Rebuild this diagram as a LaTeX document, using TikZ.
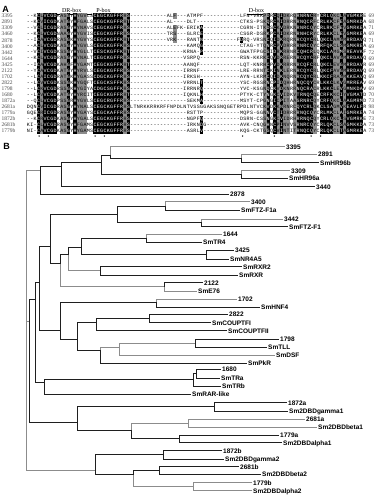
\documentclass[tikz,border=0pt]{standalone}
\usepackage{fontspec}
\setmainfont{Liberation Serif}
\newfontfamily\labfont{Liberation Sans}
\newfontfamily\alfont{Liberation Mono}
\definecolor{algray}{gray}{0.55}
\definecolor{tdark}{gray}{0.12}
\definecolor{tlight}{gray}{0.55}

\newcount\alcol
\def\altpl{NNN%
BGBBBBNGGBNBGGGNNBBBBBBBBBGB%
NNNNNNNNNNN%
NNGNNNNNNNBN%
NNNNNNNNNN%
BNNNNNNGBNBGBGGNGBBBBBGNBBBBGGBGBBBBBN}
\def\alpop#1#2\endpop{\def\alt{#1}\def\altplrest{#2}}
\def\alparse#1{\ifx\relax#1\let\alnext\relax\else\def\alnext{\alcell{#1}\alparse}\fi\alnext}
\def\alcell#1{%
  \expandafter\alpop\altplrest N\endpop
  \pgfmathsetmacro\alx{26.8+3.33*\alcol}%
  \pgfmathtruncatemacro\alc{\alcol}%
  \ifnum`#1<65 \def\als{N}\else\ifnum`#1>90 \def\als{N}\else\let\als\alt\fi\fi
  \if B\als\def\alfill{black}\def\altext{white}\else
    \if G\als\def\alfill{algray}\def\altext{black}\else
      \def\alfill{none}\def\altext{black}\fi\fi
  \path[fill=\alfill] (\alx,\aly-3.08) rectangle (\alx+3.38,\aly+3.08);
  \node[alch,text=\altext] (c\alrowid-\alc) at (\alx+1.665,\aly) {\uppercase{#1}};
  \advance\alcol by 1\relax}
\def\alrow#1#2#3#4#5#6#7#8#9{%
  \pgfmathsetmacro\aly{16+6.05*#1}%
  \def\alrowid{#1}%
  \node[alname] (nm#1) at (1.5,\aly) {#2};
  \node[alnum] (nb#1) at (368.5,\aly) {#3};
  \alcol=0
  \edef\altplrest{\altpl}%
  \alparse#4#5#6#7#8#9\relax}

\begin{document}
\begin{tikzpicture}[x=1pt,y=-1pt,
  alch/.style={inner sep=0pt, text height=3.3pt, text depth=0pt, font=\alfont\fontsize{5}{5}\selectfont},
  alname/.style={anchor=west, inner sep=0pt, text=black!70, font=\fontsize{5.5}{6}\selectfont},
  alnum/.style={anchor=west, inner sep=0pt, text=black!70, font=\fontsize{5.5}{6}\selectfont},
  boxlab/.style={inner sep=0pt, font=\fontsize{6}{7}\selectfont},
  panel/.style={inner sep=0pt, font=\labfont\bfseries\fontsize{9}{10}\selectfont},
  tl/.style={draw=tdark, line width=0.75pt, line cap=rect},
  tg/.style={draw=tlight, line width=0.75pt, line cap=rect},
  leaf/.style={anchor=west, inner xsep=1.5pt, inner ysep=0pt, text height=4.7pt, text depth=0pt, font=\labfont\bfseries\fontsize{6.5}{7}\selectfont}]
\useasboundingbox (0,0) rectangle (380,500);
\fill[white] (0,0) rectangle (380,500);

% ---------------- Panel A ----------------
\node[panel] (labA) at (5.5,9.5) {A};
\node[boxlab] (drbox) at (71.7,10) {DR-box};
\node[boxlab] (pbox) at (103.5,10) {P-box};
\node[boxlab] (dbox) at (256.5,10) {D-box};
\draw[line width=0.5pt] (51.7,14.3) -- (91.7,14.3);
\draw[line width=0.5pt] (94.3,14.3) -- (112.7,14.3);
\draw[line width=0.5pt] (246.7,14.3) -- (269.3,14.3);

\alrow{0}{3395}{69}{--K}{CLVCGDKASGYHYGVLSCEGCKGFFRRS}{-----------}{ALF---ATMPf-}{----------}{lfn-VRKPDRCQIDKRQRNRNCRYCRLQKCLAVGMKRE}
\alrow{1}{2891}{68}{--K}{CVICGDKATGYHFGALSCEGCKGFFRRT}{-----------}{AL----DLT---}{----------}{ctks-PSKQRCAIDRRNRNQCRFCRLKKCFEAGMRKDA}
\alrow{2}{3309}{71}{--V}{CLICGDRASGYHYNAVSCEGCKGFFRRS}{-----------}{ALEFK-ERIKA-}{----------}{cgrn-ITKDSCKVDRKNRNRCQYCRLRKCFEVGMRKEA}
\alrow{3}{3460}{69}{--K}{CLVCGDNAAGYHYGVISCEGCKGFFRRS}{-----------}{TRS---GLRCE-}{----------}{csgr-DSRKPCAIDKRNRNHCRYCRLKKCLEVGMRKEA}
\alrow{4}{2878}{71}{--I}{CAVCGDRASGKHYGVYSCEGCKGFFKRT}{-----------}{VRK---RANTN-}{---------F}{DRQ-VRSNCQIDKRQRNRCQYCRLQKCLAMGMRRDAVQ}
\alrow{5}{3400}{69}{--A}{CLVCGDKASGYHYGVLSCEGCKGFFKRS}{-----------}{------KAMQG-}{----------}{ctag-YTQNRCPVDRRRRNRCQYCRFQKCLSMGMKREA}
\alrow{6}{3442}{72}{--V}{CIVCGDKSSGYHYGLLTCESCKGFFKRT}{-----------}{-----KRNA-P-}{----------}{gwatfpgCSIDRKRRNRCQHCRLQKCLAMGMSREAVKF}
\alrow{7}{1644}{69}{--K}{CLVCGDRASGYHYNALTCEGCKGFFRRS}{-----------}{-----VSRPQ--}{----------}{rsn-KKRKCQVDRRERNRCQYCRFQKCLAVGMRRDAVQ}
\alrow{8}{3425}{69}{--I}{CAVCGDKAHGFHYGAMTCEGCKGFFKRT}{-----------}{-----AANQF--}{----------}{lqt-KNRHCPVDKRRRNRCQFCRLQKCLEVGMRRDAVR}
\alrow{9}{2122}{69}{--Y}{CAVCGDKATGYHYRVLSCEGCKGFFRRS}{-----------}{-----IRRNF--}{----------}{lre-RRNTCKINKLERNRCQYCRLQKCFAVGMRRDAVQ}
\alrow{10}{1702}{69}{--L}{CAICGDRATGKHYGASSCDGCKGFFRRS}{-----------}{-----IRKSH--}{----------}{ayn-LKRMCQIDKNQRNRCQYCRLKKCFRAGMKKEAVQ}
\alrow{11}{2822}{69}{--L}{CVVCGDKSSGKHYGQFTCEGCKSFFKRS}{-----------}{-----VRRNLT-}{----------}{ysc-RGSRNCPIDQHHRNQCQYCRLKKCLKVGMRREAV}
\alrow{12}{1798}{69}{--L}{CKVCGDRSSGKHYGIYACDGCSGFFKRS}{-----------}{-----IRRNRQ-}{----------}{yvc-KSGNQCKVDKNRRNQCRACRLKKCLEVGMNKDAV}
\alrow{13}{1680}{70}{--L}{CVVCGDKATGYHYRCITCEGCKGFFRRT}{-----------}{-----IQKNLH-}{----------}{ptyk-CTYNGKCVIDKVTRNQCQECRFKKCIYVGMATD}
\alrow{14}{1872a}{73}{--Q}{CLVCGDPSSGRHYGVLSCEGCRGFFRRS}{-----------}{------SEKMA-}{----------}{msyt-CPGNGICPITAASRNRCQYCRFQKCLAAGMRMD}
\alrow{15}{2681a}{98}{DQN}{CVICGDRASGYHYNALSCEGCKGFFRRS}{ltnrkkrrkrf}{fnpdlntvssgg}{akssnqgetr}{pdlntvCKVDKKNRNRCQYCRLQKCLSAGMVKEAVLFR}
\alrow{16}{1779a}{74}{GQE}{CRICGDRASGYHYGAYSCEGCKAFFRRS}{-----------}{------RSTTp-}{----------}{mqps-GGNNVCTIDRRRRNQCQYCRLMKCLAIGMRKEA}
\alrow{17}{1872b}{73}{--K}{CRVCGDKASGYHYGALSCEGCKGFFRRS}{-----------}{------NGPFQ-}{----------}{dsrn-CSSNGKCVIDRHRRNQCQYCRLQKCLSVGMRKE}
\alrow{18}{2681b}{73}{KI-}{CLVCGDRASGYHFGAMSCEGCKGFFRRS}{-----------}{------IRKNDG}{----------}{avk-CNQGHNCPINVVSRNRCQYCRLQKCLSAGMKKDA}
\alrow{19}{1779b}{73}{NI-}{CAVCGDKASGYHYGAMSCEGCKGFFRRS}{-----------}{------ASRLV-}{----------}{kqg-CKTGGQCVINTITRNQCQYCRLQKCLTAGMRKEA}

\foreach \dx in {39,48.3,95,104.3,242.7,274.3,311,320.7}
  \fill (\dx,136) circle (0.75);

% ---------------- Panel B ----------------
\node[panel] (labB) at (6.5,146.5) {B};

% internal nodes
\coordinate (root) at (26.7,321.7);
\coordinate (T) at (40,170);
\coordinate (n61) at (61,166.7);
\coordinate (n101) at (101,162.7);
\coordinate (n110) at (110,155);
\coordinate (n241a) at (241,158.3);
\coordinate (n241b) at (241,174.5);
\coordinate (n29) at (29.3,321.7);
\coordinate (n35) at (35.7,299.3);
\coordinate (n39) at (39,282.7);
\coordinate (n50) at (50,246);
\coordinate (nFTZ) at (117.3,214.3);
\coordinate (n3400) at (165.7,206.7);
\coordinate (n3442) at (201,222);
\coordinate (n60a) at (60,263.3);
\coordinate (n68) at (68.3,254.3);
\coordinate (n81) at (81,247.3);
\coordinate (n1644) at (146.7,238.3);
\coordinate (n3425) at (206.7,254.5);
\coordinate (nRXR) at (100,270);
\coordinate (n2122) at (164.3,286.7);
\coordinate (n60b) at (60,330.7);
\coordinate (n1702) at (156,302.7);
\coordinate (n77) at (77.7,339);
\coordinate (nCOUP) at (96.7,322.7);
\coordinate (nCOUPi) at (149.3,318.3);
\coordinate (nTLL) at (100,350);
\coordinate (nTLLg) at (119.3,347.3);
\coordinate (n1798) at (195,343.3);
\coordinate (nTR) at (44.3,382.7);
\coordinate (nTRi) at (193.3,379);
\coordinate (n1680) at (196.7,373.7);
\coordinate (nG1) at (77.7,422.7);
\coordinate (n1872a) at (214.3,406.7);
\coordinate (n131) at (131,430.7);
\coordinate (n2681a) at (188.3,423);
\coordinate (n1779a) at (179,438.8);
\coordinate (nG2) at (95.7,470);
\coordinate (n1872b) at (163.3,454.3);
\coordinate (n133) at (133.3,474);
\coordinate (n2681b) at (159,470.5);
\coordinate (n1779b) at (193.3,486.7);

% leaves
\node[leaf] (l3395) at (284.5,146.7) {3395};
\node[leaf] (l2891) at (316.5,154.3) {2891};
\node[leaf] (lHR96b) at (318.5,162.7) {SmHR96b};
\node[leaf] (l3309) at (289.5,170.7) {3309};
\node[leaf] (lHR96a) at (287.5,178.3) {SmHR96a};
\node[leaf] (l3440) at (314.5,186.7) {3440};
\node[leaf] (l2878) at (228.5,194.3) {2878};
\node[leaf] (l3400) at (249.5,201.7) {3400};
\node[leaf] (lFTZa) at (239.5,210) {SmFTZ-F1a};
\node[leaf] (l3442) at (282.5,219) {3442};
\node[leaf] (lFTZ) at (287.5,226.7) {SmFTZ-F1};
\node[leaf] (l1644) at (221.5,234.3) {1644};
\node[leaf] (lTR4) at (201.5,242.3) {SmTR4};
\node[leaf] (l3425) at (233.5,250) {3425};
\node[leaf] (lNR4A5) at (228.5,259) {SmNR4A5};
\node[leaf] (lRXR2) at (241.5,266.7) {SmRXR2};
\node[leaf] (lRXR) at (237.5,275) {SmRXR};
\node[leaf] (l2122) at (202.5,282.7) {2122};
\node[leaf] (lE76) at (196.5,291) {SmE76};
\node[leaf] (l1702) at (236.5,299.3) {1702};
\node[leaf] (lHNF4) at (259.5,307.3) {SmHNF4};
\node[leaf] (l2822) at (227.5,314) {2822};
\node[leaf] (lCOUPI) at (210.5,322.7) {SmCOUPTFI};
\node[leaf] (lCOUPII) at (226.5,330.7) {SmCOUPTFII};
\node[leaf] (l1798) at (278.5,339) {1798};
\node[leaf] (lTLL) at (266.5,347.3) {SmTLL};
\node[leaf] (lDSF) at (274.5,355) {SmDSF};
\node[leaf] (lPkR) at (246.5,363.3) {SmPkR};
\node[leaf] (l1680) at (220.5,369.3) {1680};
\node[leaf] (lTRa) at (219.5,378.3) {SmTRa};
\node[leaf] (lTRb) at (220.5,386) {SmTRb};
\node[leaf] (lRAR) at (190.5,394.3) {SmRAR-like};
\node[leaf] (l1872a) at (286.5,402.7) {1872a};
\node[leaf] (lg1) at (287.5,411) {Sm2DBDgamma1};
\node[leaf] (l2681a) at (304.5,419) {2681a};
\node[leaf] (lb1) at (316.5,427.3) {Sm2DBDbeta1};
\node[leaf] (l1779a) at (278.5,435) {1779a};
\node[leaf] (la1) at (281.5,442.7) {Sm2DBDalpha1};
\node[leaf] (l1872b) at (221.5,450.7) {1872b};
\node[leaf] (lg2) at (223.5,459) {Sm2DBDgamma2};
\node[leaf] (l2681b) at (238.5,466.7) {2681b};
\node[leaf] (lb2) at (260.5,474.3) {Sm2DBDbeta2};
\node[leaf] (l1779b) at (251.5,482.7) {1779b};
\node[leaf] (la2) at (251.5,490.7) {Sm2DBDalpha2};

% light branches
\draw[tg] (root) |- (T);
\draw[tg] (root) |- (n29);
\draw[tg] (root) |- (nG2);
\draw[tg] (n110) |- (l3395.west);
\draw[tg] (n241a) |- (l2891.west);
\draw[tg] (n241b) |- (l3309.west);
\draw[tg] (n3400) |- (l3400.west);
\draw[tg] (n3442) |- (l3442.west);
\draw[tg] (n1644) |- (l1644.west);
\draw[tg] (n60a) |- (n2122);
\draw[tg] (n68) |- (nRXR);
\draw[tg] (n2122) |- (lE76.west);
\draw[tg] (n1702) |- (l1702.west);
\draw[tg] (nTLL) |- (nTLLg);
\draw[tg] (nTLLg) |- (n1798);
\draw[tg] (nTLLg) |- (lDSF.west);
\draw[tg] (n131) |- (n2681a);
\draw[tg] (n2681a) |- (l2681a.west);
\draw[tg] (n2681a) |- (lb1.west);
\draw[tg] (n133) |- (n1779b);
\draw[tg] (n1779b) |- (l1779b.west);
\draw[tg] (n1779b) |- (la2.west);

% dark branches
\draw[tl] (T) |- (n61);
\draw[tl] (T) |- (l2878.west);
\draw[tl] (n61) |- (n101);
\draw[tl] (n61) |- (l3440.west);
\draw[tl] (n101) |- (n110);
\draw[tl] (n101) |- (n241b);
\draw[tl] (n110) |- (n241a);
\draw[tl] (n241a) |- (lHR96b.west);
\draw[tl] (n241b) |- (lHR96a.west);
\draw[tl] (n29) |- (n35);
\draw[tl] (n29) |- (nG1);
\draw[tl] (n35) |- (n39);
\draw[tl] (n35) |- (nTR);
\draw[tl] (n39) |- (n50);
\draw[tl] (n39) |- (n60b);
\draw[tl] (n50) |- (nFTZ);
\draw[tl] (n50) |- (n60a);
\draw[tl] (nFTZ) |- (n3400);
\draw[tl] (nFTZ) |- (n3442);
\draw[tl] (n3400) |- (lFTZa.west);
\draw[tl] (n3442) |- (lFTZ.west);
\draw[tl] (n60a) |- (n68);
\draw[tl] (n68) |- (n81);
\draw[tl] (n81) |- (n1644);
\draw[tl] (n81) |- (n3425);
\draw[tl] (n1644) |- (lTR4.west);
\draw[tl] (n3425) |- (l3425.west);
\draw[tl] (n3425) |- (lNR4A5.west);
\draw[tl] (nRXR) |- (lRXR2.west);
\draw[tl] (nRXR) |- (lRXR.west);
\draw[tl] (n2122) |- (l2122.west);
\draw[tl] (n60b) |- (n1702);
\draw[tl] (n60b) |- (n77);
\draw[tl] (n1702) |- (lHNF4.west);
\draw[tl] (n77) |- (nCOUP);
\draw[tl] (n77) |- (nTLL);
\draw[tl] (nCOUP) |- (nCOUPi);
\draw[tl] (nCOUP) |- (lCOUPII.west);
\draw[tl] (nCOUPi) |- (l2822.west);
\draw[tl] (nCOUPi) |- (lCOUPI.west);
\draw[tl] (n1798) |- (l1798.west);
\draw[tl] (n1798) |- (lTLL.west);
\draw[tl] (nTLL) |- (lPkR.west);
\draw[tl] (nTR) |- (nTRi);
\draw[tl] (nTR) |- (lRAR.west);
\draw[tl] (nTRi) |- (n1680);
\draw[tl] (nTRi) |- (lTRb.west);
\draw[tl] (n1680) |- (l1680.west);
\draw[tl] (n1680) |- (lTRa.west);
\draw[tl] (nG1) |- (n1872a);
\draw[tl] (nG1) |- (n131);
\draw[tl] (n1872a) |- (l1872a.west);
\draw[tl] (n1872a) |- (lg1.west);
\draw[tl] (n131) |- (n1779a);
\draw[tl] (n1779a) |- (l1779a.west);
\draw[tl] (n1779a) |- (la1.west);
\draw[tl] (nG2) |- (n1872b);
\draw[tl] (nG2) |- (n133);
\draw[tl] (n1872b) |- (l1872b.west);
\draw[tl] (n1872b) |- (lg2.west);
\draw[tl] (n133) |- (n2681b);
\draw[tl] (n2681b) |- (l2681b.west);
\draw[tl] (n2681b) |- (lb2.west);
\end{tikzpicture}
\end{document}
